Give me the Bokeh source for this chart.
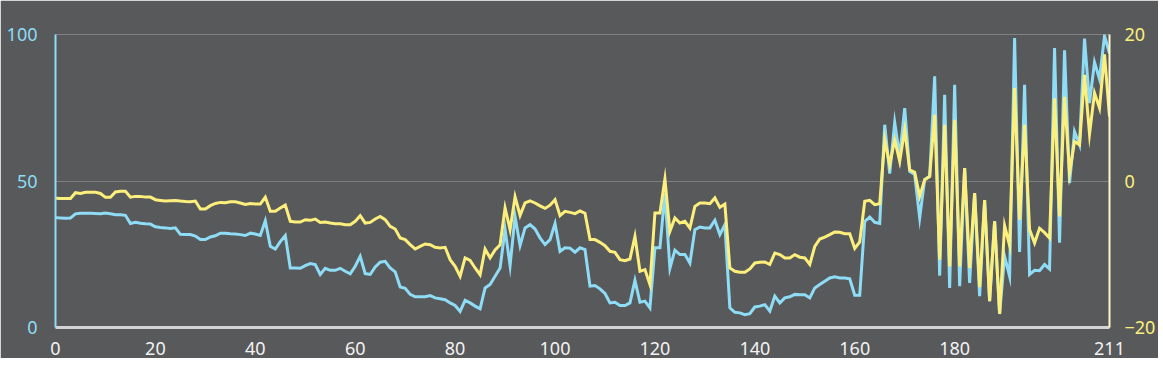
from bokeh.plotting import figure
from bokeh.models import Range1d, LinearAxis, FixedTicker
from bokeh.embed import file_html
from bokeh.resources import INLINE

# ---- data ----
x_values = list(range(212))
blue_values = [
    37.5, 37.4, 37.3, 37.4, 38.8, 39.0, 39.0, 39.0, 38.9, 38.8,
    39.1, 38.8, 38.5, 38.5, 38.3, 35.5, 35.9, 35.6, 35.4, 35.3,
    34.4, 34.1, 34.0, 33.8, 34.0, 31.8, 31.7, 31.7, 31.2, 30.0,
    30.0, 30.9, 31.3, 32.2, 32.2, 32.0, 31.9, 31.7, 31.4, 32.2,
    31.9, 31.4, 36.4, 27.7, 26.8, 29.3, 31.4, 20.3, 20.3, 20.2,
    21.1, 21.8, 21.5, 18.1, 20.2, 19.5, 19.5, 20.2, 19.2, 18.3,
    20.9, 24.3, 18.4, 18.1, 20.7, 22.3, 22.6, 20.3, 19.0, 13.8,
    13.4, 11.3, 10.5, 10.5, 10.5, 10.9, 10.1, 9.8, 9.5, 8.4,
    7.5, 5.5, 9.3, 8.4, 7.3, 6.4, 13.5, 14.7, 17.5, 20.3,
    33.4, 21.1, 37.9, 28.0, 34.0, 35.1, 33.6, 30.6, 28.3, 30.0,
    35.5, 26.0, 27.2, 27.1, 25.7, 27.2, 26.6, 14.1, 14.3, 13.2,
    11.6, 8.4, 8.6, 7.5, 7.5, 8.4, 16.1, 8.6, 9.0, 6.7,
    27.2, 27.2, 45.9, 20.2, 26.4, 24.9, 24.9, 22.0, 33.4, 34.3,
    34.0, 34.0, 36.6, 31.7, 35.1, 6.7, 5.2, 5.0, 4.4, 4.7,
    7.0, 7.3, 7.8, 5.6, 10.7, 8.4, 10.1, 10.5, 11.3, 11.2,
    11.2, 10.1, 13.5, 14.7, 15.8, 16.9, 17.3, 16.9, 16.9, 16.6,
    11.0, 11.0, 36.2, 37.7, 35.9, 35.5, 69.2, 52.5, 70.0, 58.4,
    74.9, 53.3, 52.2, 37.4, 50.5, 51.6, 85.7, 17.7, 79.4, 13.5,
    82.8, 14.1, 54.4, 15.2, 45.9, 10.7, 43.4, 9.0, 36.3, 4.6,
    24.3, 17.5, 98.8, 25.8, 82.8, 18.1, 19.5, 19.4, 21.5, 20.0,
    95.4, 28.9, 94.6, 49.3, 66.9, 62.4, 98.6, 76.6, 90.5, 84.8,
    99.5, 93.6,
]
yellow_values = [
    -2.37, -2.4, -2.4, -2.4, -1.6, -1.7, -1.55, -1.55, -1.55, -1.7,
    -2.23, -2.23, -1.5, -1.4, -1.4, -2.2, -2.1, -2.1, -2.2, -2.2,
    -2.55, -2.65, -2.74, -2.7, -2.65, -2.74, -2.8, -2.83, -2.74, -3.82,
    -3.82, -3.37, -3.06, -2.92, -2.96, -2.83, -2.83, -3.0, -3.2, -3.06,
    -3.15, -3.15, -2.2, -4.14, -4.14, -3.7, -3.28, -5.5, -5.6, -5.6,
    -5.28, -5.37, -5.19, -5.65, -5.6, -5.74, -5.83, -5.83, -5.97, -5.97,
    -5.5, -4.73, -5.74, -5.65, -5.19, -4.83, -5.28, -6.19, -6.56, -7.78,
    -8.0, -8.69, -9.28, -8.92, -8.6, -8.69, -9.05, -9.14, -9.05, -10.74,
    -11.65, -13.0, -10.5, -10.83, -11.87, -12.8, -9.28, -10.5, -9.4, -8.7,
    -3.68, -6.64, -2.15, -4.7, -3.0, -2.7, -3.0, -3.4, -3.74, -3.3,
    -2.55, -4.74, -4.14, -4.28, -4.45, -4.1, -4.4, -8.0, -8.0, -8.37,
    -8.83, -9.6, -9.74, -10.74, -10.87, -10.65, -7.55, -12.33, -12.1, -14.15,
    -4.37, -4.37, 0.27, -6.87, -5.05, -5.73, -5.5, -6.42, -3.46, -3.0,
    -3.0, -3.1, -2.32, -3.6, -3.15, -11.87, -12.33, -12.47, -12.47, -12.0,
    -11.19, -11.1, -11.05, -11.4, -9.83, -10.05, -10.5, -10.5, -10.05, -10.4,
    -10.5, -11.4, -8.92, -7.92, -7.65, -7.33, -6.96, -7.0, -7.2, -7.2,
    -9.2, -8.3, -2.78, -2.64, -3.23, -3.1, 5.63, 2.22, 5.63, 2.68,
    7.0, 1.54, 1.18, -2.1, 0.18, 0.63, 9.05, -10.74, 7.68, -11.65,
    8.36, -11.65, 1.77, -11.87, -1.64, -14.5, -2.6, -16.4, -5.5, -18.15,
    -6.1, -8.8, 12.7, -5.28, 7.68, -6.64, -8.46, -6.45, -7.05, -7.78,
    11.3, -4.83, 11.5, 1.09, 5.4, 4.95, 14.5, 6.4, 12.0, 9.96,
    17.3, 8.8,
]
x_ticks = [0, 20, 40, 60, 80, 100, 120, 140, 160, 180, 211]
left_ticks = [0, 50, 100]
right_ticks = [-20, 0, 20]

# ---- style ----
BG = "#58595b"
BLUE = "#8edcf5"
YELLOW = "#fcef7c"
FONT = "Noto Sans"

p = figure(
    frame_width=1054, frame_height=293,
    min_border_left=55, min_border_right=38, min_border_top=34, min_border_bottom=31,
    x_range=Range1d(0, 211), y_range=Range1d(0, 100),
    output_backend="svg", toolbar_location=None,
    background_fill_color=BG, border_fill_color=BG,
)
p.outline_line_color = None
p.extra_y_ranges = {"right": Range1d(-20, 20)}

p.xgrid.visible = False
p.ygrid.ticker = FixedTicker(ticks=left_ticks)
p.ygrid.grid_line_color = "#7d7e80"
p.ygrid.grid_line_width = 1

# bottom axis
xa = p.xaxis[0]
xa.ticker = FixedTicker(ticks=x_ticks)
xa.axis_line_color = "#d4d4d4"
xa.axis_line_width = 3
xa.major_tick_line_color = None
xa.minor_tick_line_color = None
xa.major_label_text_color = "#f2f2f2"
xa.major_label_text_font = FONT
xa.major_label_text_font_size = "18px"
xa.major_label_standoff = 8

# left axis
ya = p.yaxis[0]
ya.ticker = FixedTicker(ticks=left_ticks)
ya.axis_line_color = BLUE
ya.axis_line_width = 2
ya.major_tick_line_color = None
ya.minor_tick_line_color = None
ya.major_label_text_color = BLUE
ya.major_label_text_font = FONT
ya.major_label_text_font_size = "18px"
ya.major_label_standoff = 12

# right axis
ra = LinearAxis(y_range_name="right", ticker=FixedTicker(ticks=right_ticks))
ra.axis_line_color = "#fff6c8"
ra.axis_line_width = 2
ra.major_tick_line_color = None
ra.minor_tick_line_color = None
ra.major_label_text_color = YELLOW
ra.major_label_text_font = FONT
ra.major_label_text_font_size = "18px"
ra.major_label_standoff = 9
p.add_layout(ra, "right")

p.line(x_values, blue_values, line_color=BLUE, line_width=3, line_join="miter")
p.line(x_values, yellow_values, line_color=YELLOW, line_width=3, line_join="miter",
       y_range_name="right")

html = file_html(p, INLINE)
html = html.replace("<body>", '<body style="background-color:%s;">' % BG, 1)
open("out.html", "w").write(html)
